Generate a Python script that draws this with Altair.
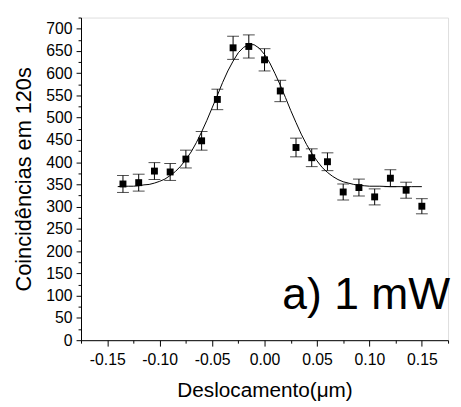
import altair as alt
import pandas as pd

# measured points
x_pos = [-0.135, -0.120, -0.105, -0.090, -0.075, -0.060, -0.045, -0.030, -0.015, 0.000,
         0.015, 0.030, 0.045, 0.060, 0.075, 0.090, 0.105, 0.120, 0.135, 0.150]
counts = [351, 354, 380, 378, 407, 448, 541, 657, 660, 630,
          560, 433, 410, 401, 333, 343, 322, 364, 337, 301]
errors = [19, 19, 19, 19, 20, 21, 23, 26, 26, 25,
          24, 21, 20, 20, 18, 19, 18, 19, 18, 17]

# fitted curve
fit_x = [-0.140, -0.135, -0.130, -0.125, -0.120, -0.115, -0.110, -0.105, -0.100, -0.095,
         -0.090, -0.085, -0.080, -0.075, -0.070, -0.065, -0.060, -0.055, -0.050, -0.045,
         -0.040, -0.035, -0.030, -0.025, -0.020, -0.015, -0.010, -0.005, 0.000, 0.005,
         0.010, 0.015, 0.020, 0.025, 0.030, 0.035, 0.040, 0.045, 0.050, 0.055,
         0.060, 0.065, 0.070, 0.075, 0.080, 0.085, 0.090, 0.095, 0.100, 0.110,
         0.120, 0.130, 0.140, 0.150]
fit_y = [345, 346, 346, 346, 347, 349, 350, 353, 357, 362,
         370, 379, 391, 406, 423, 444, 468, 494, 522, 550,
         579, 605, 627, 646, 658, 664, 664, 656, 642, 623,
         599, 573, 545, 516, 489, 463, 440, 420, 403, 388,
         377, 368, 361, 356, 353, 350, 348, 347, 346, 346,
         345, 345, 345, 345]

x_ticks = [-0.175, -0.15, -0.125, -0.10, -0.075, -0.05, -0.025, 0.0, 0.025, 0.05,
           0.075, 0.10, 0.125, 0.15, 0.175]
y_ticks = [0, 25, 50, 75, 100, 125, 150, 175, 200, 225, 250, 275, 300, 325, 350,
           375, 400, 425, 450, 475, 500, 525, 550, 575, 600, 625, 650, 675, 700, 725]

label_text = ["a) 1 mW"]
label_x = [0.175]
label_y = [71]

FONT = "Liberation Sans"

pts = pd.DataFrame({"x": x_pos, "y": counts, "e": errors})
pts["lo"] = pts["y"] - pts["e"]
pts["hi"] = pts["y"] + pts["e"]
fit = pd.DataFrame({"x": fit_x, "y": fit_y})
ann = pd.DataFrame({"x": label_x, "y": label_y, "t": label_text})

xscale = alt.Scale(domain=[-0.175, 0.175], nice=False, zero=False)
yscale = alt.Scale(domain=[0, 725], nice=False, zero=False)

xaxis = alt.Axis(
    title="Deslocamento(\u03bcm)", values=x_ticks, grid=False,
    labelExpr="abs(round(datum.value*40)) % 2 == 0 ? (datum.value < -0.001 ? '-' : '') + format(abs(datum.value), '.2f') : ''",
    tickSize={"condition": {"test": "abs(round(datum.value*40)) % 2 == 0", "value": 6}, "value": 3},
    labelOverlap=False, labelPadding=6, labelFontSize=16, labelFont=FONT, labelColor="black",
    titleFontSize=21, titleFont=FONT, titleFontWeight="normal", titleColor="black", titlePadding=12,
    domainColor="black", tickColor="black", domainWidth=1, tickWidth=1,
)
yaxis = alt.Axis(
    title="Coincid\u00eancias em 120s", values=y_ticks, grid=False,
    labelExpr="datum.value % 50 == 0 ? format(datum.value, 'd') : ''",
    tickSize={"condition": {"test": "datum.value % 50 == 0", "value": 5}, "value": 3},
    labelOverlap=False, labelPadding=4, labelFontSize=16, labelFont=FONT, labelColor="black",
    titleFontSize=22, titleFont=FONT, titleFontWeight="normal", titleColor="black", titlePadding=10,
    domainColor="black", tickColor="black", domainWidth=1, tickWidth=1,
)

def X(field="x"):
    return alt.X(f"{field}:Q", scale=xscale, axis=xaxis)

def Y(field="y"):
    return alt.Y(f"{field}:Q", scale=yscale, axis=yaxis)

curve = alt.Chart(fit).mark_line(color="black", strokeWidth=1).encode(x=X(), y=Y())
bars = alt.Chart(pts).mark_rule(color="black", strokeWidth=1).encode(x=X(), y=Y("lo"), y2="hi:Q")
cap_lo = alt.Chart(pts).mark_tick(color="black", orient="horizontal", size=12, thickness=1).encode(x=X(), y=Y("lo"))
cap_hi = alt.Chart(pts).mark_tick(color="black", orient="horizontal", size=12, thickness=1).encode(x=X(), y=Y("hi"))
dots = alt.Chart(pts).mark_point(shape="square", filled=True, size=49, color="black", opacity=1).encode(x=X(), y=Y())
text = alt.Chart(ann).mark_text(align="right", baseline="alphabetic", fontSize=45, font=FONT, color="black", dx=2).encode(
    x=X(), y=Y(), text="t:N")

chart = alt.layer(curve, bars, cap_lo, cap_hi, dots, text).properties(
    width=372, height=327,
    autosize=alt.AutoSizeParams(type="none"),
    padding={"left": 74, "top": 7, "right": 5, "bottom": 62},
).configure_view(stroke=None).configure(background="white")

chart.save("out.html", embed_options={"renderer": "svg", "actions": False})
